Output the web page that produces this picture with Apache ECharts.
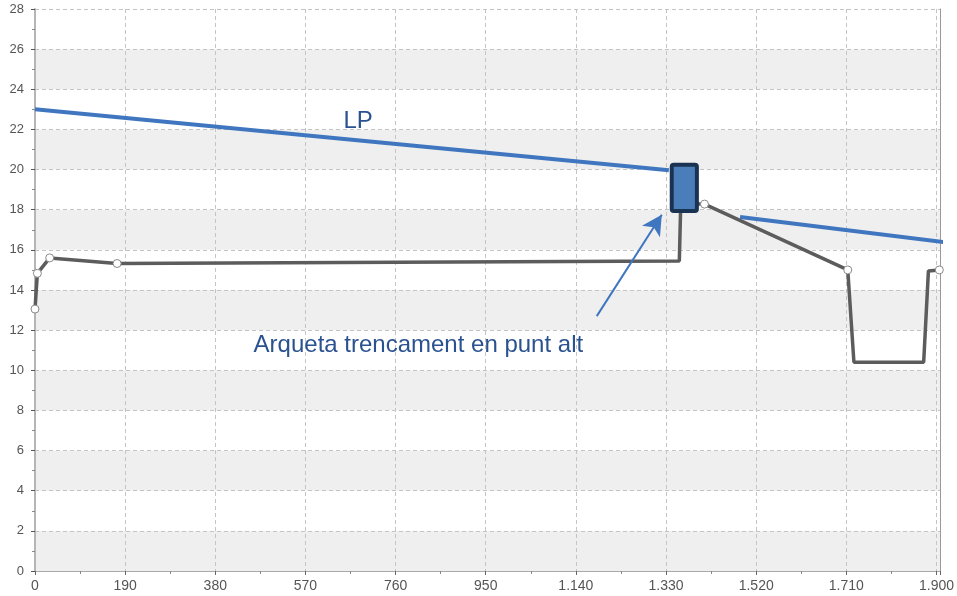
<!DOCTYPE html>
<html>
<head>
<meta charset="utf-8">
<script src="https://cdn.jsdelivr.net/npm/echarts@6/dist/echarts.min.js"></script>
<style>
  html, body { margin: 0; padding: 0; background: #fff; }
  #main { width: 957px; height: 596px; }
</style>
</head>
<body>
<div id="main"></div>
<script>
// perfil del terreny / conducció (x en m, y en cota)
var profilePoints = [
  [0, 13.05], [5, 14.83], [31, 15.6], [173, 15.32], [1358, 15.45],
  [1361, 18.3], [1411, 18.28], [1713, 15.0], [1726, 10.4], [1873, 10.4],
  [1883, 14.95], [1906, 15.0]
]
// punts amb marcador (índexs de profilePoints)
var markedIndexes = [0, 1, 2, 3, 6, 7, 11]

// línia piezomètrica LP, dos trams
var lpLeft = [[0, 23.0], [1336, 19.97]]
var lpRight = [[1486, 17.64], [1917, 16.38]]

// arqueta: [x0, y0, x1, y1]
var arquetaBox = [[1342, 17.93, 1395, 20.24]]

// fletxa: inici i punta
var arrowStart = [1184, 12.7]
var arrowEnd = [1321, 17.75]

// etiquetes de text
var lpLabel = { text: 'LP', at: [681, 22.41] }
var arquetaLabel = { text: 'Arqueta trencament en punt alt', at: [808, 11.25] }

var xMax = 1908
var xInterval = 190
var yMax = 28
var yInterval = 2

function thousands(v) {
  return String(v).replace(/\B(?=(\d{3})+(?!\d))/g, '.')
}

var chart = echarts.init(document.getElementById('main'))

var profileData = profilePoints.map(function (p, i) {
  if (markedIndexes.indexOf(i) >= 0) return { value: p }
  return { value: p, symbol: 'none' }
})

var option = {
  animation: false,
  textStyle: { fontFamily: 'Liberation Sans, Arial, sans-serif' },
  grid: { left: 35, right: 14, top: 9, bottom: 25 },
  xAxis: {
    type: 'value',
    min: 0,
    max: xMax,
    interval: xInterval,
    axisLine: { show: true, lineStyle: { color: '#aaa', width: 1 } },
    axisTick: { show: true, length: 4, lineStyle: { color: '#666' } },
    minorTick: { show: true, splitNumber: 2, length: 3, lineStyle: { color: '#888' } },
    axisLabel: {
      color: '#555',
      fontSize: 14,
      margin: 8,
      showMaxLabel: false,
      formatter: thousands
    },
    splitLine: { show: true, lineStyle: { color: '#c4c4c4', type: [4, 3], width: 1 } }
  },
  yAxis: [
    {
      type: 'value',
      min: 0,
      max: yMax,
      interval: yInterval,
      axisLine: { show: true, lineStyle: { color: '#b5b5b5', width: 2 } },
      axisTick: { show: true, length: 4, lineStyle: { color: '#555' } },
      minorTick: { show: true, splitNumber: 2, length: 3, lineStyle: { color: '#888' } },
      axisLabel: { color: '#555', fontSize: 13, margin: 11 },
      splitLine: { show: true, lineStyle: { color: '#c4c4c4', type: [4, 3], width: 1 } },
      splitArea: { show: true, areaStyle: { color: ['#efefef', '#ffffff'] } }
    },
    {
      type: 'value',
      position: 'right',
      min: 0,
      max: yMax,
      axisLine: { show: true, lineStyle: { color: '#999', width: 1 } },
      axisTick: { show: false },
      axisLabel: { show: false },
      splitLine: { show: false }
    }
  ],
  series: [
    {
      name: 'perfil',
      type: 'line',
      data: profileData,
      symbol: 'circle',
      symbolSize: 8,
      itemStyle: { color: '#fff', borderColor: '#8a8a8a', borderWidth: 1 },
      lineStyle: { color: '#5c5c5c', width: 3.5 },
      clip: false,
      z: 3
    },
    {
      name: 'LP',
      type: 'line',
      data: lpLeft,
      symbol: 'none',
      lineStyle: { color: '#3f76bf', width: 4 },
      z: 4,
      markPoint: {
        symbol: 'circle',
        symbolSize: 0,
        silent: true,
        data: [
          {
            coord: lpLabel.at,
            label: {
              show: true, position: 'inside', formatter: lpLabel.text,
              color: '#2a5290', fontSize: 24
            }
          },
          {
            coord: arquetaLabel.at,
            label: {
              show: true, position: 'inside', formatter: arquetaLabel.text,
              color: '#2a5290', fontSize: 24
            }
          }
        ]
      }
    },
    {
      name: 'LP',
      type: 'line',
      data: lpRight,
      symbol: 'none',
      clip: false,
      lineStyle: { color: '#3f76bf', width: 4 },
      z: 4
    },
    {
      name: 'fletxa',
      type: 'line',
      data: [],
      markLine: {
        silent: true,
        symbol: ['none', 'arrow'],
        symbolSize: [16, 20],
        label: { show: false },
        lineStyle: { color: '#3f76bf', width: 2, type: 'solid' },
        data: [[{ coord: arrowStart }, { coord: arrowEnd }]]
      },
      z: 5
    },
    {
      name: 'arqueta',
      type: 'custom',
      data: arquetaBox,
      z: 6,
      clip: false,
      renderItem: function (params, api) {
        var a = api.coord([api.value(0), api.value(3)])
        var b = api.coord([api.value(2), api.value(1)])
        return {
          type: 'rect',
          shape: { x: a[0], y: a[1], width: b[0] - a[0], height: b[1] - a[1], r: 2 },
          style: { fill: '#4a7ebb', stroke: '#1a3352', lineWidth: 4 }
        }
      }
    }
  ]
}

chart.setOption(option, true)
</script>
</body>
</html>
